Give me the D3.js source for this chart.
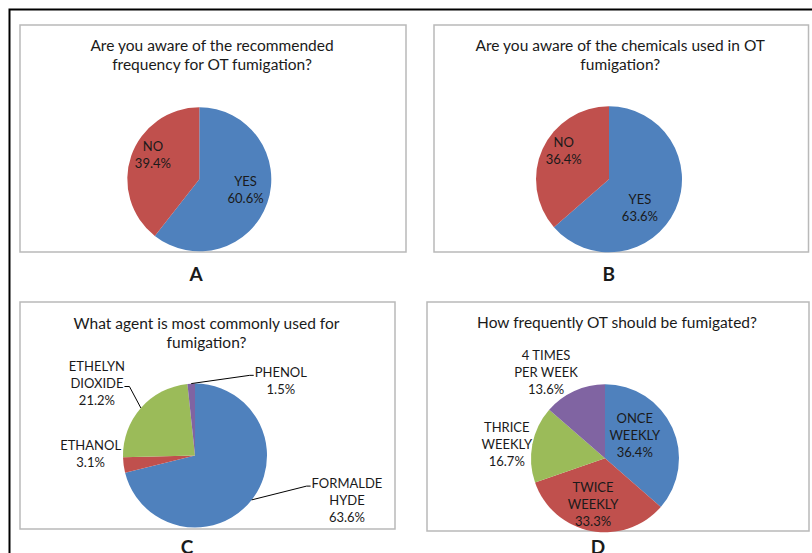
<!DOCTYPE html>
<html>
<head>
<meta charset="utf-8">
<script src="https://cdn.jsdelivr.net/npm/d3@7"></script>
<style>
  html, body { margin: 0; padding: 0; background: #ffffff; }
  svg { display: block; }
  text { font-family: Lato, "Open Sans", sans-serif; fill: #1a1a1a; }
</style>
</head>
<body>
<script>
// ---- survey data ----
const titleA = ["Are you aware of the recommended", "frequency for OT fumigation?"];
const categoriesA = [["YES"], ["NO"]];
const valuesA = [60.6, 39.4];

const titleB = ["Are you aware of the chemicals used in OT", "fumigation?"];
const categoriesB = [["YES"], ["NO"]];
const valuesB = [63.6, 36.4];

const titleC = ["What agent is most commonly used for", "fumigation?"];
const categoriesC = [["FORMALDE", "HYDE"], ["ETHANOL"], ["ETHELYN", "DIOXIDE"], ["PHENOL"]];
const valuesC = [63.6, 3.1, 21.2, 1.5];

const titleD = ["How frequently OT should be fumigated?"];
const categoriesD = [["ONCE", "WEEKLY"], ["TWICE", "WEEKLY"], ["THRICE", "WEEKLY"], ["4 TIMES", "PER WEEK"]];
const valuesD = [36.4, 33.3, 16.7, 13.6];

const panelLetters = ["A", "B", "C", "D"];
const sliceColors = ["#4f81bd", "#c0504d", "#9bbb59", "#8064a2"];

// ---- layout ----
const W = 812, H = 553;
const svg = d3.select("body").append("svg").attr("width", W).attr("height", H);

// outer figure frame (runs off the right and bottom edges)
svg.append("rect")
  .attr("x", 9.5).attr("y", 9.5).attr("width", 900).attr("height", 600)
  .attr("fill", "none").attr("stroke", "#000").attr("stroke-width", 2);

// label placement: radius factor, angular nudge (deg), optional leader line
const panels = [
  { title: titleA, cats: categoriesA, vals: valuesA,
    box: [20, 25, 386, 227], cx: 199.3, cy: 179.3, r: 72, titleY: [46, 65],
    letter: [196, 281],
    place: [{ k: 0.66, d: -6 }, { k: 0.73, d: 9 }] },
  { title: titleB, cats: categoriesB, vals: valuesB,
    box: [434, 25, 374.5, 227], cx: 609, cy: 179.3, r: 73, titleY: [46, 65],
    letter: [608.7, 281],
    place: [{ k: 0.58, d: 18.6 }, { k: 0.73, d: 7.3 }] },
  { title: titleC, cats: categoriesC, vals: valuesC,
    box: [20, 302, 375, 227], cx: 195, cy: 455.5, r: 72, titleY: [323.3, 342.7],
    letter: [187, 554.3],
    place: [{ k: 2.2, d: -21.7, leader: 0 }, { k: 1.45, d: 8.3 },
            { k: 1.69, d: -5, leader: 1 }, { k: 1.58, d: 52, leader: 0 }] },
  { title: titleD, cats: categoriesD, vals: valuesD,
    box: [427, 302, 382, 229], cx: 605, cy: 458.3, r: 74, titleY: [322.7],
    letter: [598, 554.3],
    place: [{ k: 0.51, d: -13.5 }, { k: 0.65, d: 3.4 },
            { k: 1.34, d: -3.2 }, { k: 1.41, d: -9.9 }] }
];

const LINE_H = 17;      // label line spacing
const LABEL_SIZE = 13;
const TITLE_SIZE = 15.5;

panels.forEach((p, pi) => {
  const g = svg.append("g");
  const [bx, by, bw, bh] = p.box;

  g.append("rect")
    .attr("x", bx).attr("y", by).attr("width", bw).attr("height", bh)
    .attr("fill", "#fff").attr("stroke", "#b9b9b9").attr("stroke-width", 1.5);

  // title
  p.title.forEach((line, i) => {
    g.append("text")
      .attr("x", bx + bw / 2 - 1).attr("y", p.titleY[i] + 5.4)
      .attr("text-anchor", "middle").attr("font-size", TITLE_SIZE)
      .text(line);
  });

  // pie
  const arcs = d3.pie().sort(null).value(d => d)(p.vals);
  const arc = d3.arc().innerRadius(0).outerRadius(p.r);
  const pg = g.append("g").attr("transform", `translate(${p.cx},${p.cy})`);
  pg.selectAll("path").data(arcs).join("path")
    .attr("d", arc)
    .attr("fill", (d, i) => sliceColors[i]);

  // data labels
  arcs.forEach((a, i) => {
    const pl = p.place[i];
    const mid = (a.startAngle + a.endAngle) / 2;
    const ang = mid + pl.d * Math.PI / 180;
    const lx = p.cx + pl.k * p.r * Math.sin(ang);
    const ly = p.cy - pl.k * p.r * Math.cos(ang);
    const lines = p.cats[i].concat([d3.format(".1f")(p.vals[i]) + "%"]);
    const n = lines.length;
    const nodes = lines.map((line, j) => {
      const yc = ly + (j - (n - 1) / 2) * LINE_H;
      const t = g.append("text")
        .attr("x", lx).attr("y", yc + 4.6)
        .attr("text-anchor", "middle").attr("font-size", LABEL_SIZE)
        .text(line);
      return { node: t.node(), yc };
    });

    if (pl.leader !== undefined) {
      const att = nodes[pl.leader];
      const bb = att.node.getBBox();
      const sx = p.cx + p.r * Math.sin(mid);
      const sy = p.cy - p.r * Math.cos(mid);
      const y = att.yc + 3;
      let ex, kx;
      if (lx > p.cx) { ex = bb.x - 1; kx = ex - 4; }
      else { ex = bb.x + bb.width + 1; kx = ex + 5; }
      g.append("path")
        .attr("d", `M${sx},${sy}L${kx},${y}L${ex},${y}`)
        .attr("fill", "none").attr("stroke", "#000").attr("stroke-width", 1);
    }
  });

  // panel letter
  svg.append("text")
    .attr("x", p.letter[0]).attr("y", p.letter[1])
    .attr("text-anchor", "middle").attr("font-size", 19).attr("font-weight", "bold")
    .attr("fill", "#000")
    .text(panelLetters[pi]);
});
</script>
</body>
</html>
